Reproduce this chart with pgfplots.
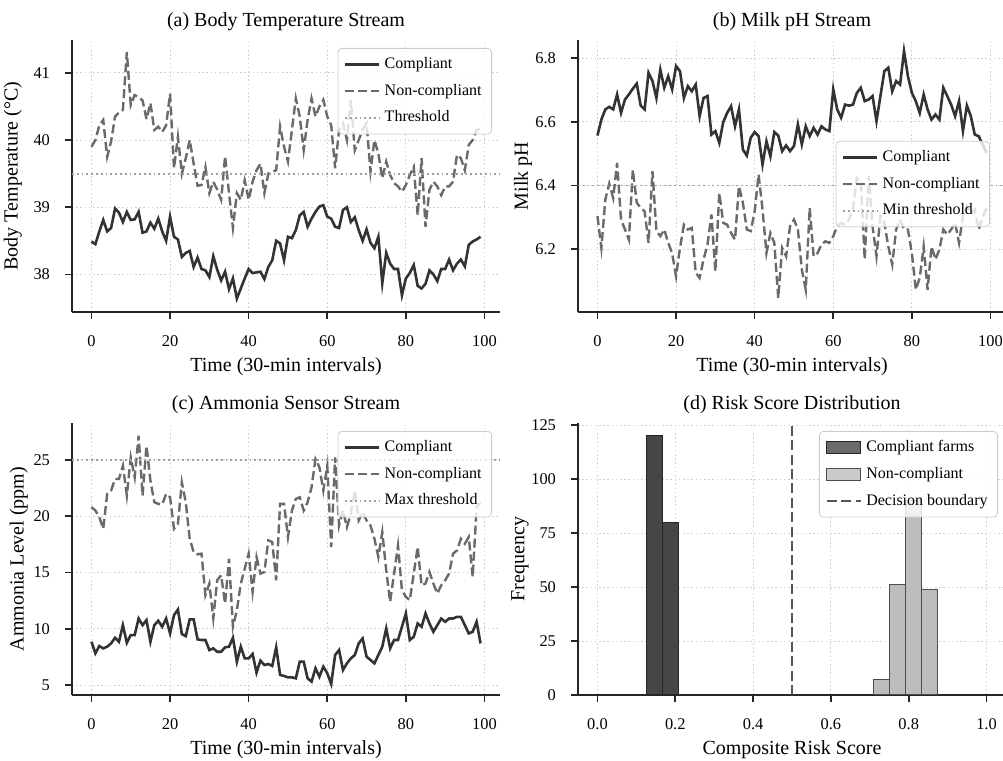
\documentclass[border=0pt]{standalone}
\usepackage{fontspec}
\setmainfont{Liberation Serif}
\usepackage{pgfplots}
\usepackage{pgfplotstable}
\pgfplotsset{compat=1.18}

\definecolor{cComp}{HTML}{333333}
\definecolor{cNon}{HTML}{6A6A6A}
\definecolor{cThr}{HTML}{A0A0A0}
\definecolor{cBarA}{HTML}{464646}
\definecolor{cBarB}{HTML}{BDBDBD}
\definecolor{cBound}{HTML}{555555}

% t: interval, tc/tn: body temp, pc/pn: milk pH, ac/an: ammonia
\pgfplotstableread{
t tc tn pc pn ac an
0 38.49 39.90 6.557 6.304 8.85 20.80
1 38.45 40.00 6.607 6.204 7.82 20.50
2 38.64 40.22 6.639 6.356 8.47 19.91
3 38.81 40.30 6.647 6.406 8.26 18.88
4 38.64 39.75 6.639 6.361 8.41 21.98
5 38.69 39.98 6.686 6.471 8.70 22.27
6 38.98 40.35 6.628 6.293 9.20 23.30
7 38.92 40.41 6.670 6.262 8.85 23.30
8 38.78 40.45 6.686 6.230 10.32 24.48
9 38.93 41.31 6.704 6.450 8.76 21.83
10 38.81 40.52 6.720 6.346 9.44 25.22
11 38.82 40.67 6.651 6.330 9.44 23.45
12 38.93 40.64 6.639 6.319 10.91 27.14
13 38.62 40.59 6.754 6.220 10.32 21.83
14 38.64 40.31 6.728 6.445 10.77 26.25
15 38.77 40.55 6.675 6.257 8.85 23.16
16 38.68 40.15 6.764 6.241 10.32 21.24
17 38.83 40.20 6.707 6.262 10.71 21.09
18 38.64 40.12 6.743 6.220 10.18 21.03
19 38.50 40.22 6.702 6.188 10.91 21.98
20 38.86 40.69 6.775 6.115 9.59 21.68
21 38.56 39.58 6.759 6.204 11.21 18.88
22 38.52 40.05 6.675 6.277 11.71 19.32
23 38.26 39.50 6.712 6.262 9.53 23.01
24 38.32 39.73 6.696 6.267 9.35 21.24
25 38.35 40.00 6.717 6.126 10.83 17.99
26 38.11 39.65 6.618 6.110 10.83 16.81
27 38.25 39.32 6.675 6.168 9.06 16.61
28 38.08 39.33 6.681 6.215 9.00 16.67
29 38.06 39.60 6.560 6.309 9.00 12.98
30 37.96 39.21 6.571 6.131 8.11 14.01
31 38.27 39.38 6.534 6.377 8.26 10.91
32 38.07 39.26 6.599 6.283 7.96 14.31
33 37.91 39.11 6.628 6.277 7.96 14.75
34 38.04 39.76 6.649 6.251 8.35 12.24
35 37.78 39.21 6.586 6.230 8.41 16.22
36 37.94 38.69 6.639 6.398 9.20 10.18
37 37.64 39.21 6.513 6.346 7.08 11.65
38 37.79 39.11 6.494 6.262 8.41 14.01
39 37.94 39.40 6.550 6.257 7.37 15.34
40 38.08 39.11 6.568 6.319 7.37 16.67
41 38.02 39.38 6.555 6.435 7.76 13.27
42 38.03 39.55 6.466 6.325 6.11 16.37
43 38.04 39.65 6.539 6.188 7.17 14.90
44 37.93 39.21 6.492 6.251 6.78 15.04
45 38.11 39.50 6.568 6.220 6.87 17.85
46 38.21 39.53 6.557 6.047 6.70 17.70
47 38.50 39.55 6.508 6.204 8.35 14.31
48 38.46 40.20 6.526 6.178 5.90 21.09
49 38.21 39.90 6.508 6.272 5.81 21.09
50 38.56 39.68 6.524 6.293 5.69 18.14
51 38.54 40.15 6.592 6.262 5.69 20.50
52 38.66 40.62 6.529 6.136 5.60 21.53
53 38.88 40.35 6.586 6.073 7.08 21.68
54 38.93 39.85 6.555 6.330 7.08 20.50
55 38.71 40.30 6.581 6.178 5.60 21.24
56 38.83 40.62 6.560 6.188 5.31 22.57
57 38.93 40.35 6.586 6.215 6.49 25.07
58 39.01 40.50 6.576 6.225 5.75 24.34
59 39.03 40.60 6.571 6.220 6.64 22.27
60 38.86 40.35 6.702 6.241 6.05 24.48
61 38.83 40.22 6.639 6.272 5.10 17.26
62 38.71 39.58 6.613 6.283 7.67 25.22
63 38.69 40.15 6.654 6.277 8.11 19.17
64 38.96 40.25 6.651 6.293 6.34 20.50
65 39.00 40.00 6.654 6.325 6.93 19.03
66 38.78 40.60 6.691 6.424 7.37 20.21
67 38.85 39.85 6.707 6.414 7.67 22.27
68 38.66 40.00 6.665 6.168 8.70 19.62
69 38.50 40.15 6.670 6.429 9.14 20.35
70 38.67 40.25 6.681 6.272 7.52 19.62
71 38.47 39.53 6.602 6.178 7.23 19.17
72 38.39 40.00 6.681 6.304 6.93 17.99
73 38.56 39.80 6.759 6.283 7.67 16.37
74 37.87 39.43 6.770 6.209 8.41 18.58
75 38.32 39.68 6.696 6.152 10.03 15.19
76 38.16 39.48 6.728 6.262 8.26 12.39
77 38.08 39.36 6.717 6.293 9.00 14.90
78 38.08 39.31 6.822 6.262 9.00 17.40
79 37.69 39.23 6.743 6.262 10.18 13.42
80 37.94 39.33 6.691 6.188 11.36 12.83
81 38.02 39.48 6.665 6.073 9.00 12.54
82 38.14 39.60 6.628 6.110 9.29 14.90
83 37.83 38.88 6.686 6.209 10.47 17.26
84 37.79 39.73 6.639 6.073 10.18 13.86
85 37.86 38.71 6.607 6.209 11.36 14.01
86 38.06 39.26 6.623 6.168 10.47 15.04
87 38.00 39.38 6.607 6.199 9.73 14.01
88 37.90 39.31 6.707 6.262 10.32 13.13
89 38.08 39.18 6.681 6.246 10.91 13.86
90 38.08 39.31 6.654 6.262 10.62 14.31
91 38.22 39.31 6.618 6.283 10.91 14.90
92 38.06 39.38 6.665 6.220 10.91 16.67
93 38.16 39.78 6.571 6.304 11.06 16.96
94 38.22 39.73 6.651 6.335 11.06 17.99
95 38.12 39.55 6.618 6.314 10.32 17.55
96 38.44 39.93 6.560 6.325 9.59 18.14
97 38.49 40.00 6.555 6.262 9.73 14.60
98 38.52 40.15 6.529 6.300 10.62 20.80
99 38.56 40.17 6.503 6.330 8.70 21.20
}\streams

\pgfplotsset{
  panel/.style={
    scale only axis, width=214pt, height=136pt,
    axis x line*=bottom, axis y line*=left,
    axis line style={-, black!85, line width=0.8pt},
    tick align=outside, major tick length=3.5pt,
    tick style={black!85, line width=0.8pt},
    grid=major,
    major grid style={gray!35, line width=0.5pt, dash pattern=on 0.8pt off 1.3pt},
    tick label style={font=\fontsize{8.2}{9.8}\selectfont},
    xticklabel style={yshift=-5pt},
    yticklabel style={xshift=-4pt},
    /pgf/number format/assume math mode=true,
    label style={font=\fontsize{10}{12}\selectfont},
    title style={font=\fontsize{10}{12}\selectfont,
      at={(axis description cs:0.5,1)}, anchor=base, yshift=0.6pt},
    xlabel style={at={(axis description cs:0.5,0)}, anchor=base, yshift=-29.9pt},
    legend style={font=\fontsize{8}{9.6}\selectfont, draw=black!20,
      rounded corners=2pt, fill=white, fill opacity=0.8, text opacity=1,
      inner xsep=3pt, inner ysep=2.5pt, row sep=2.3pt,
      at={(1,1)}, anchor=north east, xshift=-4pt, yshift=-4pt},
    legend cell align=left,
  },
  ts/.style={panel, xmin=-4.95, xmax=103.95, xtick={0,20,...,100},
    xlabel={Time (30-min intervals)}},
  comp/.style={cComp, line width=1.3pt, no marks, sharp corners},
  non/.style={cNon, line width=1.2pt, dash pattern=on 4.5pt off 2pt, no marks, sharp corners},
  thr/.style={cThr, line width=0.9pt, dash pattern=on 0.9pt off 1.5pt, no marks},
}

\begin{document}
\begin{tikzpicture}

% (a)
\begin{axis}[ts, at={(36pt,224.5pt)}, anchor=south west,
  ymin=37.44, ymax=41.49, ytick={38,39,40,41},
  title={(a) Body Temperature Stream},
  ylabel={Body Temperature (°C)},
  ylabel style={at={(axis description cs:-0.138,0.5)}, anchor=center},
]
\addplot[comp] table[x=t, y=tc] {\streams};
\addlegendentry{Compliant}
\addplot[non] table[x=t, y=tn] {\streams};
\addlegendentry{Non-compliant}
\addplot[thr] coordinates {(-4.95,39.5)(103.95,39.5)};
\addlegendentry{Threshold}
\end{axis}

% (b)
\begin{axis}[ts, at={(289pt,224.5pt)}, anchor=south west,
  ymin=6.003, ymax=6.857, ytick={6.2,6.4,6.6,6.8},
  yticklabel style={/pgf/number format/.cd, fixed, fixed zerofill, precision=1},
  title={(b) Milk pH Stream},
  ylabel={Milk pH},
  ylabel style={at={(axis description cs:-0.1285,0.5)}, anchor=center},
  legend style={at={(1,0.5)}, anchor=east, xshift=-4pt, yshift=0pt},
]
\addplot[comp] table[x=t, y=pc] {\streams};
\addlegendentry{Compliant}
\addplot[non] table[x=t, y=pn] {\streams};
\addlegendentry{Non-compliant}
\addplot[thr] coordinates {(-4.95,6.4)(103.95,6.4)};
\addlegendentry{Min threshold}
\end{axis}

% (c)
\begin{axis}[ts, at={(36pt,33pt)}, anchor=south west,
  ymin=4.12, ymax=28.27, ytick={5,10,15,20,25},
  title={(c) Ammonia Sensor Stream},
  ylabel={Ammonia Level (ppm)},
  ylabel style={at={(axis description cs:-0.124,0.5)}, anchor=center},
]
\addplot[comp] table[x=t, y=ac] {\streams};
\addlegendentry{Compliant}
\addplot[non] table[x=t, y=an] {\streams};
\addlegendentry{Non-compliant}
\addplot[thr] coordinates {(-4.95,25)(103.95,25)};
\addlegendentry{Max threshold}
\end{axis}

% (d)
\begin{axis}[panel, at={(289pt,33pt)}, anchor=south west,
  xmin=-0.05, xmax=1.05, ymin=0, ymax=126,
  xtick={0,0.2,0.4,0.6,0.8,1.0}, ytick={0,25,50,75,100,125},
  xticklabel style={/pgf/number format/.cd, fixed, fixed zerofill, precision=1},
  title={(d) Risk Score Distribution},
  xlabel={Composite Risk Score},
  ylabel={Frequency},
  ylabel style={at={(axis description cs:-0.1355,0.5)}, anchor=center},
]
\addplot[ybar interval, area legend, sharp corners, fill=cBarA, draw=black!85, line width=0.5pt]
  coordinates {(0.125,120)(0.16667,80)(0.20833,0)};
\addlegendentry{Compliant farms}
\addplot[ybar interval, area legend, sharp corners, fill=cBarB, draw=black!70, line width=0.5pt]
  coordinates {(0.70833,7)(0.75,51)(0.79167,90)(0.83333,49)(0.875,0)};
\addlegendentry{Non-compliant}
\addplot[cBound, line width=1.4pt, dash pattern=on 5pt off 2.2pt, no marks, sharp corners]
  coordinates {(0.5,0)(0.5,126)};
\addlegendentry{Decision boundary}
\end{axis}

\pgfresetboundingbox
\path[use as bounding box] (0,0) rectangle (501.5pt,380.5pt);
\end{tikzpicture}
\end{document}
